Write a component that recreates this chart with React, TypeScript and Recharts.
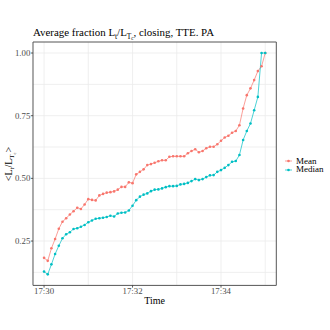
import React from "react";
import { LineChart, Line, XAxis, YAxis, CartesianGrid, ReferenceArea } from "recharts";

// sampling step (seconds after 17:30)
const STEP_SECONDS = 5;

const meanValues = [
  0.183, 0.171, 0.221, 0.258, 0.299, 0.327, 0.341, 0.356, 0.369, 0.383,
  0.378, 0.396, 0.417, 0.414, 0.412, 0.432, 0.438, 0.443, 0.445, 0.448,
  0.455, 0.466, 0.466, 0.484, 0.481, 0.516, 0.526, 0.536, 0.553, 0.557,
  0.562, 0.568, 0.572, 0.572, 0.586, 0.588, 0.588, 0.588, 0.588, 0.600,
  0.609, 0.616, 0.604, 0.609, 0.620, 0.626, 0.626, 0.636, 0.650, 0.663,
  0.670, 0.682, 0.689, 0.712, 0.779, 0.832, 0.859, 0.892, 0.928, 0.947,
  1.0,
];

const medianValues = [
  0.128, 0.117, 0.157, 0.198, 0.231, 0.261, 0.277, 0.285, 0.298, 0.301,
  0.307, 0.314, 0.325, 0.332, 0.339, 0.341, 0.343, 0.346, 0.351, 0.348,
  0.36, 0.363, 0.364, 0.372, 0.391, 0.413, 0.427, 0.435, 0.44, 0.449,
  0.455, 0.456, 0.46, 0.465, 0.469, 0.469, 0.47, 0.476, 0.478, 0.482,
  0.489, 0.497, 0.493, 0.497, 0.505, 0.512, 0.513, 0.526, 0.533, 0.542,
  0.553, 0.566, 0.569, 0.593, 0.653, 0.689, 0.719, 0.772, 0.825, 1.0,
  1.0,
];

const xTickValues = [0, 120, 240];
const xTickLabels = ["17:30", "17:32", "17:34"];
const yTickValues = [0.25, 0.5, 0.75, 1.0];
const xGridValues = [0, 60, 120, 180, 240, 300];
const yGridValues = [0.125, 0.25, 0.375, 0.5, 0.625, 0.75, 0.875, 1.0];

const seriesNames = ["Mean", "Median"];
const seriesColors = ["#F8766D", "#00BFC4"];

const data = meanValues.map((m, i) => ({
  t: i * STEP_SECONDS,
  mean: m,
  median: medianValues[i],
}));

const X_DOMAIN: [number, number] = [-15, 315];
const Y_DOMAIN: [number, number] = [0.073, 1.044];

const FONT = "'Liberation Serif', 'DejaVu Serif', serif";

const Sub = ({ children }: { children: React.ReactNode }) => (
  <span style={{ fontSize: "0.68em", position: "relative", top: "0.35em" }}>{children}</span>
);

export default function App() {
  return (
    <div
      style={{
        position: "absolute",
        left: 0,
        top: 0,
        width: 330,
        height: 330,
        background: "#ffffff",
        fontFamily: FONT,
        overflow: "hidden",
      }}
    >
      <LineChart
        width={330}
        height={330}
        data={data}
        margin={{ top: 42, right: 53.7, bottom: 24.6, left: 0 }}
      >
        <CartesianGrid
          stroke="#ebebeb"
          strokeWidth={0.8}
          horizontalValues={yGridValues}
          verticalValues={xGridValues}
        />
        <XAxis
          dataKey="t"
          type="number"
          domain={X_DOMAIN}
          ticks={xTickValues}
          tickFormatter={(v: number) => xTickLabels[xTickValues.indexOf(v)] ?? ""}
          height={20}
          axisLine={false}
          tickLine={{ stroke: "#333333", strokeWidth: 0.8 }}
          tickSize={2.2}
          tickMargin={0.5}
          tick={{ fill: "#4d4d4d", fontSize: 8.8, fontFamily: FONT }}
          interval={0}
          allowDataOverflow
        />
        <YAxis
          type="number"
          domain={Y_DOMAIN}
          ticks={yTickValues}
          tickFormatter={(v: number) => v.toFixed(2)}
          width={33}
          axisLine={false}
          tickLine={{ stroke: "#333333", strokeWidth: 0.8 }}
          tickSize={2.2}
          tickMargin={0.5}
          tick={{ fill: "#4d4d4d", fontSize: 8.8, fontFamily: FONT }}
          interval={0}
          allowDataOverflow
        />
        <Line
          dataKey="mean"
          stroke={seriesColors[0]}
          strokeWidth={0.7}
          dot={{ r: 1.3, fill: seriesColors[0], stroke: "none", strokeWidth: 0 }}
          activeDot={false}
          isAnimationActive={false}
        />
        <Line
          dataKey="median"
          stroke={seriesColors[1]}
          strokeWidth={0.7}
          dot={{ r: 1.3, fill: seriesColors[1], stroke: "none", strokeWidth: 0 }}
          activeDot={false}
          isAnimationActive={false}
        />
        <ReferenceArea
          x1={X_DOMAIN[0]}
          x2={X_DOMAIN[1]}
          y1={Y_DOMAIN[0]}
          y2={Y_DOMAIN[1]}
          fill="none"
          fillOpacity={0}
          stroke="#555555"
          strokeWidth={1}
          ifOverflow="visible"
        />
      </LineChart>

      {/* Title */}
      <div
        style={{
          position: "absolute",
          left: 33,
          top: 26,
          fontSize: 10.9,
          color: "#000",
          whiteSpace: "nowrap",
          lineHeight: "12px",
        }}
      >
        Average fraction L<Sub>t</Sub>/L
        <Sub>
          T<Sub>c</Sub>
        </Sub>
        , closing, TTE. PA
      </div>

      {/* Y label */}
      <div
        style={{
          position: "absolute",
          left: 10,
          top: 164,
          transform: "translate(-50%, -50%) rotate(-90deg)",
          fontSize: 10,
          whiteSpace: "nowrap",
          lineHeight: "12px",
        }}
      >
        &lt;L<Sub>t</Sub>/L
        <Sub>
          T<Sub>c</Sub>
        </Sub>
        &gt;
      </div>

      {/* X label */}
      <div
        style={{
          position: "absolute",
          left: 154.6,
          top: 300.5,
          transform: "translate(-50%, -50%)",
          fontSize: 10,
          whiteSpace: "nowrap",
          lineHeight: "12px",
        }}
      >
        Time
      </div>

      {/* Legend */}
      <div style={{ position: "absolute", left: 284, top: 157 }}>
        {seriesNames.map((name, i) => (
          <div
            key={name}
            style={{ display: "flex", alignItems: "center", height: 8.6, fontSize: 9, lineHeight: "9px" }}
          >
            <svg width={9} height={8} style={{ marginRight: 3 }}>
              <line x1={1} y1={4} x2={8} y2={4} stroke={seriesColors[i]} strokeWidth={0.7} />
              <circle cx={4.5} cy={4} r={1.3} fill={seriesColors[i]} />
            </svg>
            <span>{name}</span>
          </div>
        ))}
      </div>
    </div>
  );
}
